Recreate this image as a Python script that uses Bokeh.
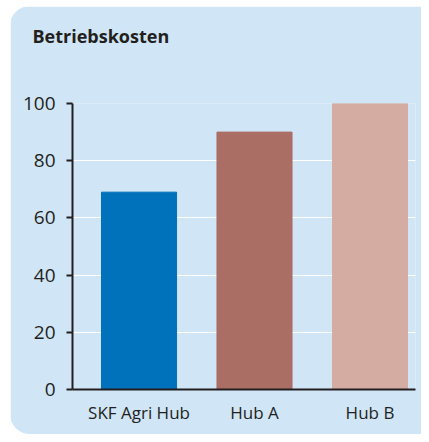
from bokeh.plotting import figure
from bokeh.layouts import column
from bokeh.models import ColumnDataSource, Range1d, FixedTicker, Title
from bokeh.embed import file_html
from bokeh.resources import INLINE

categories = ["SKF Agri Hub", "Hub A", "Hub B"]
values = [69, 90, 100]
bar_colors = ["#0071bb", "#ab6e65", "#d4aca1"]
y_ticks = [0, 20, 40, 60, 80, 100]
chart_title = "Betriebskosten"

BG = "#d0e6f6"
INK = "#231f20"
W, H = 411, 428

positions = list(range(len(categories)))
src = ColumnDataSource(dict(x=positions, top=values, color=bar_colors))

fig = figure(width=W, height=H, output_backend="svg", toolbar_location=None,
             x_range=Range1d(-0.576, 2.394), y_range=Range1d(0, 100),
             min_border_left=62, min_border_right=6, min_border_top=97,
             min_border_bottom=45)
fig.styles = {"border-radius": "20px 0 0 20px", "overflow": "hidden"}
fig.background_fill_color = BG
fig.border_fill_color = BG
fig.outline_line_color = None

# empty spacer between title and plot frame
spacer = Title(text=" ", text_font="Open Sans", text_font_size="18px", standoff=17)
fig.add_layout(spacer, "above")

fig.title.text = chart_title
fig.title.align = "left"
fig.title.offset = -40
fig.title.standoff = 26
fig.title.text_font = "Open Sans"
fig.title.text_font_size = "18px"
fig.title.text_font_style = "bold"
fig.title.text_color = INK

fig.vbar(x="x", top="top", width=0.65, color="color", source=src)

fig.xgrid.grid_line_color = None
fig.ygrid.grid_line_color = "white"
fig.ygrid.grid_line_width = 1
fig.ygrid.ticker = FixedTicker(ticks=y_ticks)

fig.yaxis.ticker = FixedTicker(ticks=y_ticks)
fig.yaxis.axis_line_color = INK
fig.yaxis.axis_line_width = 2
fig.yaxis.major_tick_line_color = INK
fig.yaxis.major_tick_line_width = 2
fig.yaxis.major_tick_in = 0
fig.yaxis.major_tick_out = 6
fig.yaxis.minor_tick_line_color = None
fig.yaxis.major_label_text_font = "Open Sans"
fig.yaxis.major_label_text_font_size = "19px"
fig.yaxis.major_label_text_color = INK
fig.yaxis.major_label_standoff = 11

fig.xaxis.ticker = FixedTicker(ticks=positions)
fig.xaxis.major_label_overrides = {i: c for i, c in zip(positions, categories)}
fig.xaxis.axis_line_color = INK
fig.xaxis.axis_line_width = 2
fig.xaxis.major_tick_line_color = None
fig.xaxis.minor_tick_line_color = None
fig.xaxis.major_label_text_font = "Open Sans"
fig.xaxis.major_label_text_font_size = "17px"
fig.xaxis.major_label_text_color = INK
fig.xaxis.major_label_standoff = 5

p = column(fig, styles={"padding": "6px 0 0 10px", "background": "white"})

open("out.html", "w").write(file_html(p, INLINE))
